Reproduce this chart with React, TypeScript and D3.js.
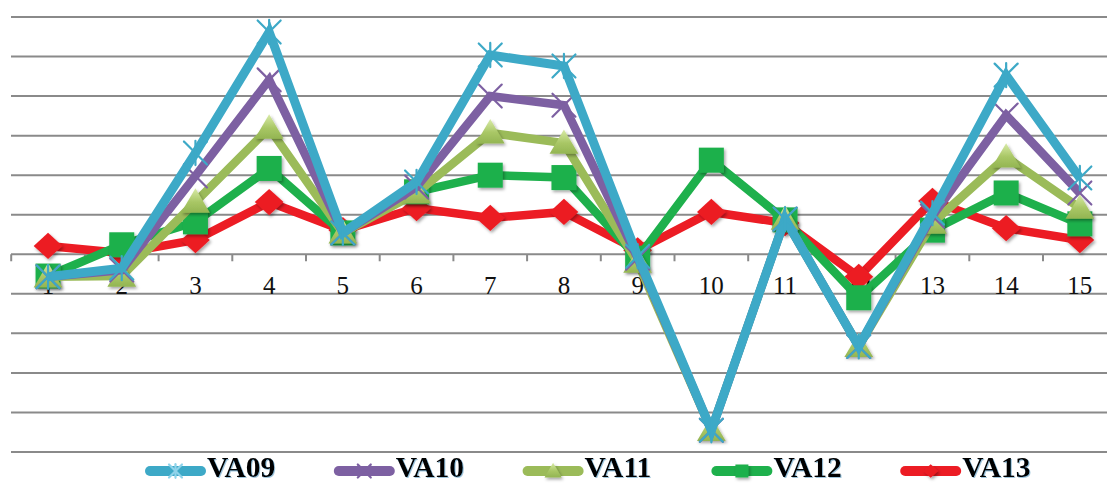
import React from "react";
import * as d3 from "d3";

const categories = ["1","2","3","4","5","6","7","8","9","10","11","12","13","14","15"];
const seriesNames = ["VA09", "VA10", "VA11", "VA12", "VA13"];
const va09 = [-0.57, -0.35, 2.56, 5.62, 0.54, 1.83, 5.04, 4.76, -0.05, -4.45, 0.89, -2.33, 1.04, 4.53, 1.93];
const va10 = [-0.57, -0.4, 1.98, 4.41, 0.54, 1.7, 4.0, 3.77, -0.1, -4.45, 0.89, -2.33, 0.97, 3.52, 1.55];
const va11 = [-0.57, -0.55, 1.32, 3.19, 0.54, 1.55, 3.07, 2.81, -0.2, -4.45, 0.89, -2.33, 0.79, 2.46, 1.17];
const va12 = [-0.55, 0.24, 0.82, 2.17, 0.54, 1.58, 2.0, 1.94, -0.1, 2.38, 0.87, -1.1, 0.61, 1.55, 0.77];
const va13 = [0.21, 0.03, 0.36, 1.32, 0.61, 1.17, 0.92, 1.07, 0.1, 1.07, 0.79, -0.57, 1.35, 0.66, 0.36];
const yTicks = [-5, -4, -3, -2, -1, 0, 1, 2, 3, 4, 5, 6];

const W = 1107;
const H = 483;
const SERIF = "'Liberation Serif', 'DejaVu Serif', serif";

type Marker = "star" | "x" | "triangle" | "square" | "diamond";
const styles: { color: string; marker: Marker; width: number }[] = [
  { color: "#3DA9C7", marker: "star", width: 9 },
  { color: "#7D60A2", marker: "x", width: 8.5 },
  { color: "#9BBB59", marker: "triangle", width: 8.5 },
  { color: "#1EB04C", marker: "square", width: 8.5 },
  { color: "#EC1C24", marker: "diamond", width: 8.5 },
];
const allValues = [va09, va10, va11, va12, va13];

function MarkerShape({ type, color, cx, cy, s }: { type: Marker; color: string; cx: number; cy: number; s: number }) {
  const h = s / 2;
  switch (type) {
    case "star":
      return (
        <g stroke={color} strokeWidth={2.2} strokeLinecap="round">
          <line x1={cx - h} y1={cy - h} x2={cx + h} y2={cy + h} />
          <line x1={cx - h} y1={cy + h} x2={cx + h} y2={cy - h} />
          <line x1={cx} y1={cy - h * 1.05} x2={cx} y2={cy + h * 1.05} />
        </g>
      );
    case "x":
      return (
        <g stroke={color} strokeWidth={2.2} strokeLinecap="round">
          <line x1={cx - h} y1={cy - h} x2={cx + h} y2={cy + h} />
          <line x1={cx - h} y1={cy + h} x2={cx + h} y2={cy - h} />
        </g>
      );
    case "triangle":
      return (
        <path
          d={`M${cx},${cy - h * 1.1} L${cx + h * 1.15},${cy + h * 0.85} L${cx - h * 1.15},${cy + h * 0.85} Z`}
          fill="url(#triGrad)"
          filter="url(#shadow)"
        />
      );
    case "square":
      return <rect x={cx - h} y={cy - h} width={s} height={s} fill={color} filter="url(#shadow)" />;
    case "diamond":
      return (
        <path
          d={`M${cx},${cy - h * 1.05} L${cx + h * 1.15},${cy} L${cx},${cy + h * 1.05} L${cx - h * 1.15},${cy} Z`}
          fill={color}
          filter="url(#shadow)"
        />
      );
  }
}

export default function App() {
  const x = d3.scaleBand<string>().domain(categories).range([11.2, 11.2 + 15 * 73.7]).paddingInner(0).paddingOuter(0);
  const y = d3.scaleLinear().domain([-5, 6]).range([452, 17]);
  const cx = (c: string) => (x(c) as number) + x.bandwidth() / 2;
  const y0 = y(0);

  const line = d3
    .line<number>()
    .x((_, i) => cx(categories[i]))
    .y((d) => y(d));

  const order = [4, 3, 2, 1, 0];
  const legendStart = 145;
  const legendStep = 188.8;

  return (
    <svg width={W} height={H} style={{ position: "absolute", left: 0, top: 0, background: "#fff" }}>
      <defs>
        <linearGradient id="triGrad" x1="0" y1="0" x2="0" y2="1">
          <stop offset="0%" stopColor="#d9eba8" />
          <stop offset="55%" stopColor="#a9c766" />
          <stop offset="100%" stopColor="#93b552" />
        </linearGradient>
        <filter id="shadow" x="-50%" y="-50%" width="200%" height="200%">
          <feDropShadow dx="1.5" dy="2" stdDeviation="1.5" floodColor="#000" floodOpacity="0.35" />
        </filter>
        <filter id="txtShadow" x="-10%" y="-10%" width="130%" height="130%">
          <feDropShadow dx="1" dy="1" stdDeviation="0.6" floodColor="#2f7fb0" floodOpacity="0.45" />
        </filter>
      </defs>
      <rect x={0} y={0} width={W} height={H} fill="#fff" />
      {yTicks.map((t) => (
        <line key={t} x1={11} x2={W} y1={y(t)} y2={y(t)} stroke="#8a8a8a" strokeWidth={2} />
      ))}
      {categories.map((c) => (
        <line key={"t" + c} x1={x(c) as number} x2={x(c) as number} y1={y0} y2={y0 + 7} stroke="#8a8a8a" strokeWidth={2} />
      ))}
      {categories.map((c) => (
        <text key={"l" + c} x={cx(c)} y={294} textAnchor="middle" style={{ fontFamily: SERIF, fontSize: "25px" }} fill="#111">
          {c}
        </text>
      ))}
      {order.map((si) => {
        const st = styles[si];
        const vals = allValues[si];
        return (
          <g key={seriesNames[si]}>
            <path d={line(vals) || ""} fill="none" stroke={st.color} strokeWidth={st.width} strokeLinejoin="miter" strokeMiterlimit={4} />
            {vals.map((v, i) => (
              <MarkerShape key={i} type={st.marker} color={st.color} cx={cx(categories[i])} cy={y(v)} s={st.marker === "star" || st.marker === "x" ? 23 : 25} />
            ))}
          </g>
        );
      })}
      {seriesNames.map((n, i) => {
        const st = styles[i];
        const lx = legendStart + i * legendStep;
        const ly = 471;
        return (
          <g key={"leg" + n}>
            <line x1={lx + 5} x2={lx + 56} y1={ly} y2={ly} stroke={st.color} strokeWidth={10} strokeLinecap="round" />
            <MarkerShape type={st.marker} color={st.marker === "star" ? "#8fd3ea" : st.color} cx={lx + 30.5} cy={ly} s={st.marker === "triangle" ? 15 : 13} />
            <text x={lx + 62} y={476.5} style={{ fontFamily: SERIF, fontWeight: 700, fontSize: "29.5px" }} fill="#000" filter="url(#txtShadow)">
              {n}
            </text>
          </g>
        );
      })}
    </svg>
  );
}
